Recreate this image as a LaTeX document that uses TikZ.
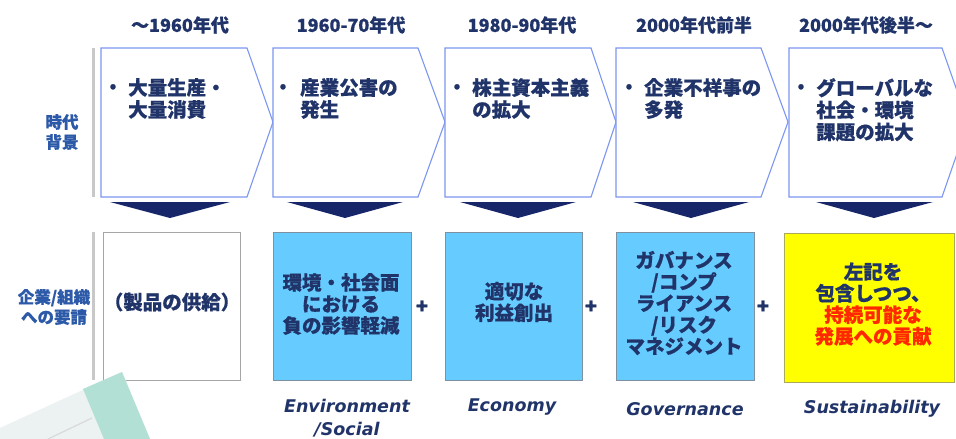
\documentclass[tikz,border=0pt]{standalone}
\usepackage{fontspec}
\setmainfont{Noto Sans CJK JP}[BoldFeatures={FakeBold=0.6}]
\newfontfamily\latbi{DejaVu Sans}[UprightFont={* Bold Oblique}]
\definecolor{navy}{RGB}{32,52,105}
\definecolor{trinavy}{RGB}{22,38,104}
\definecolor{chevc}{RGB}{125,150,240}
\definecolor{lbl}{RGB}{45,90,168}
\definecolor{barg}{RGB}{200,200,200}
\definecolor{skyb}{RGB}{102,204,255}
\definecolor{skybord}{RGB}{125,145,160}
\definecolor{yel}{RGB}{255,255,0}
\definecolor{yelbord}{RGB}{170,170,90}
\definecolor{redt}{RGB}{255,40,0}
\definecolor{teal}{RGB}{178,224,212}
\definecolor{sheet}{RGB}{236,242,242}
\tikzset{
  chev/.style={draw=chevc, line width=1.1pt, fill=white},
  hdr/.style={font=\bfseries\fontsize{18}{20}\selectfont, text=navy, inner sep=0pt},
  btxt/.style={font=\bfseries\fontsize{19.5}{22}\selectfont, text=navy, align=left, anchor=north west, inner sep=0pt},
  bul/.style={font=\bfseries\fontsize{17}{20}\selectfont, text=navy, inner sep=0pt},
  boxt/.style={font=\bfseries\fontsize{19.5}{21.5}\selectfont, text=navy, align=center, inner sep=0pt},
  reqbox/.style={draw=skybord, line width=1pt, fill=skyb},
  downtri/.style={fill=trinavy},
  plus/.style={font=\bfseries\fontsize{20}{20}\selectfont, text=navy, inner sep=0pt},
  eng/.style={font=\latbi\fontsize{17.5}{23}\selectfont, text=navy, align=center, inner sep=0pt},
  side/.style={font=\bfseries\fontsize{16.5}{20}\selectfont, text=lbl, align=center, inner sep=0pt},
  grbar/.style={draw=barg, line width=3pt},
}
\begin{document}
\begin{tikzpicture}[x=1pt,y=-1pt]
\useasboundingbox (0,0) rectangle (956,439);
\fill[white] (0,0) rectangle (956,439);
\begin{scope}
\clip (0,0) rectangle (956,439);
% header labels
\node[hdr] (h1) at (180,25) {～1960年代};
\node[hdr] (h2) at (351,25) {1960-70年代};
\node[hdr] (h3) at (522,25) {1980-90年代};
\node[hdr] (h4) at (694,25) {2000年代前半};
\node[hdr] (h5) at (866,25) {2000年代後半～};
% gray bars
\draw[grbar] (93,48) -- (93,197);
\draw[grbar] (93,232) -- (93,380);
% chevrons
\draw[chev] (101,48) -- (247,48) -- (273,122) -- (247,197) -- (101,197) -- cycle;
\draw[chev] (273,48) -- (418,48) -- (445,122) -- (418,197) -- (273,197) -- cycle;
\draw[chev] (445,48) -- (591,48) -- (616,122) -- (591,197) -- (445,197) -- cycle;
\draw[chev] (616,48) -- (761,48) -- (788,122) -- (761,197) -- (616,197) -- cycle;
\draw[chev] (789,48) -- (942,48) -- (968,122) -- (942,197) -- (789,197) -- cycle;
% chevron texts
\node[bul] (u1) at (113,88) {•};
\node[btxt] (c1) at (128,78) {大量生産・\\大量消費};
\node[bul] (u2) at (283,88) {•};
\node[btxt] (c2) at (300,78) {産業公害の\\発生};
\node[bul] (u3) at (457,88) {•};
\node[btxt] (c3) at (472,78) {株主資本主義\\の拡大};
\node[bul] (u4) at (629,88) {•};
\node[btxt] (c4) at (644,78) {企業不祥事の\\多発};
\node[bul] (u5) at (801,88) {•};
\node[btxt] (c5) at (816,78) {グローバルな\\社会・環境\\課題の拡大};
% down triangles
\fill[downtri] (110,202) -- (230,202) -- (170,218) -- cycle;
\fill[downtri] (287,202) -- (403,202) -- (345,218) -- cycle;
\fill[downtri] (460,202) -- (576,202) -- (518,218) -- cycle;
\fill[downtri] (633,202) -- (749,202) -- (691,218) -- cycle;
\fill[downtri] (816,202) -- (933,202) -- (874,218) -- cycle;
% side labels
\node[side] (s1) at (62,132) {時代\\背景};
\node[side] (s2) at (54,307) {企業/組織\\への要請};
% requirement boxes
\draw[draw=black!35, line width=1pt, fill=white] (103,232) rectangle (240,380);
\draw[reqbox] (273,232) rectangle (411,380);
\draw[reqbox] (445,232) rectangle (582,380);
\draw[reqbox] (616,232) rectangle (754,380);
\draw[draw=yelbord, line width=1pt, fill=yel] (784,233) rectangle (954,382);
\node[boxt] (r1) at (172,302) {（製品の供給）};
\node[boxt] (r2) at (341,304) {環境・社会面\\における\\負の影響軽減};
\node[boxt] (r3) at (514,302) {適切な\\利益創出};
\node[boxt] (r4) at (684,303) {ガバナンス\\/コンプ\\ライアンス\\/リスク\\マネジメント};
\node[boxt] (r5) at (873,304) {左記を\\包含しつつ、\\\textcolor{redt}{持続可能な}\\\textcolor{redt}{発展への貢献}};
% plus signs
\node[plus] (p1) at (422,307) {+};
\node[plus] (p2) at (591,307) {+};
\node[plus] (p3) at (763,307) {+};
% english labels
\node[eng] (e1) at (347,418) {Environment\\/Social};
\node[eng] (e2) at (512,407) {Economy};
\node[eng] (e3) at (685,409) {Governance};
\node[eng] (e4) at (872,409) {Sustainability};
% decorative sheet bottom-left
\fill[sheet] (0,428) -- (122,372) -- (150,439) -- (0,439) -- cycle;
\fill[teal] (83,389) -- (122,372) -- (150,439) -- (104,439) -- cycle;
\draw[draw=black!15, line width=1.2pt] (92,418) -- (48,439);
\end{scope}
\end{tikzpicture}
\end{document}
